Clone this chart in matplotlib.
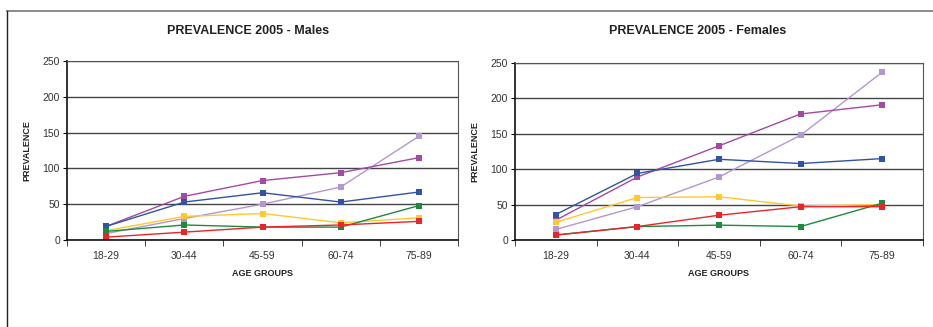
import matplotlib.pyplot as plt
import numpy as np

plt.rcParams['font.family'] = ['Liberation Sans', 'DejaVu Sans']

# age groups on the x axis
age_groups = ['18-29', '30-44', '45-59', '60-74', '75-89']

# males, one list per series
male_magenta = [19, 61, 83, 94, 115]
male_blue = [19, 53, 66, 53, 67]
male_lilac = [9, 30, 50, 74, 145]
male_yellow = [13, 33, 37, 24, 31]
male_green = [12, 21, 18, 18, 48]
male_red = [4, 11, 18, 21, 26]

# females
female_magenta = [28, 89, 133, 178, 191]
female_blue = [36, 94, 114, 108, 115]
female_lilac = [15, 47, 89, 148, 237]
female_yellow = [25, 60, 61, 48, 50]
female_green = [7, 19, 21, 19, 52]
female_red = [7, 19, 35, 47, 47]

colors = {'magenta': '#a34aa3', 'blue': '#3153a4', 'lilac': '#b397d0',
          'yellow': '#ffc82e', 'green': '#1f8a3e', 'red': '#e8262a'}

males = [('lilac', male_lilac), ('magenta', male_magenta), ('blue', male_blue),
         ('yellow', male_yellow), ('green', male_green), ('red', male_red)]
females = [('lilac', female_lilac), ('magenta', female_magenta), ('blue', female_blue),
           ('yellow', female_yellow), ('green', female_green), ('red', female_red)]

fig = plt.figure(figsize=(9.33, 3.27), dpi=100)

# outer frame lines (top and left)
fig.add_artist(plt.Line2D([7 / 933, 1], [1 - 11 / 327, 1 - 11 / 327],
                          transform=fig.transFigure, color='#777777', lw=1.2))
fig.add_artist(plt.Line2D([7 / 933, 7 / 933], [0, 1 - 11 / 327],
                          transform=fig.transFigure, color='#222222', lw=1.0))


def draw(rect, series, title, title_x):
    ax = fig.add_axes(rect)
    x = np.arange(len(age_groups))
    for name, vals in series:
        ax.plot(x, vals, color=colors[name], lw=1.0, marker='s', markersize=4,
                markeredgewidth=0)
    ax.set_xlim(-0.5, len(age_groups) - 0.5)
    ax.set_ylim(0, 250)
    ax.set_yticks([0, 50, 100, 150, 200, 250])
    ax.set_xticks(x)
    ax.set_xticklabels(age_groups)
    ax.set_xticks(np.arange(-0.5, len(age_groups)), minor=True)
    ax.tick_params(axis='x', which='major', length=0, pad=8, labelsize=7.5,
                   labelcolor='#333333')
    ax.tick_params(axis='x', which='minor', length=4, direction='out',
                   color='#222222')
    ax.tick_params(axis='y', length=3, labelsize=7.5, labelcolor='#333333', pad=2)
    ax.yaxis.grid(True, color='#444444', lw=1.0)
    ax.set_axisbelow(True)
    for s in ['top', 'right']:
        ax.spines[s].set_color('#555555')
    for s in ['left', 'bottom']:
        ax.spines[s].set_color('#111111')
        ax.spines[s].set_linewidth(1.2)
    ax.set_xlabel('AGE GROUPS', fontsize=6.5, fontweight='bold', labelpad=6,
                  color='#222222')
    ax.set_ylabel('PREVALENCE', fontsize=6.5, fontweight='bold', labelpad=8,
                  color='#222222')
    fig.text(title_x, 1 - 31 / 327, title, ha='center', va='center',
             fontsize=9, fontweight='bold', color='#222222')
    return ax


draw([67 / 933, 1 - 240 / 327, 391 / 933, 179 / 327], males,
     'PREVALENCE 2005 - Males', 248 / 933)
draw([515 / 933, 1 - 240 / 327, 408 / 933, 177 / 327], females,
     'PREVALENCE 2005 - Females', 698 / 933)

fig.savefig('out.png', dpi=100)
